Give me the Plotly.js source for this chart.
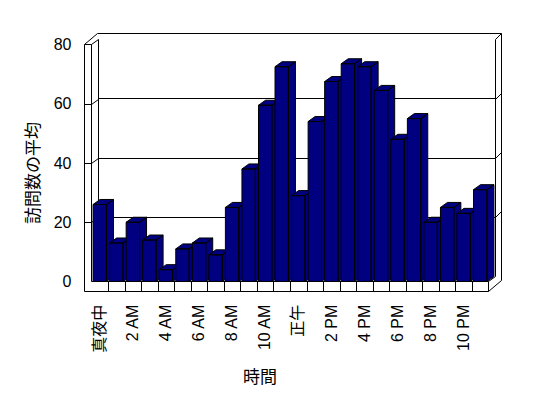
<!DOCTYPE html>
<html>
<head>
<meta charset="utf-8">
<script src="https://cdn.plot.ly/plotly-3.0.1.min.js"></script>
<style>html,body{margin:0;padding:0;background:#fff;}#chart{width:548px;height:398px;}</style>
</head>
<body>
<div id="chart"></div>
<script>
// ---- data ----
const hours = ['真夜中','1 AM','2 AM','3 AM','4 AM','5 AM','6 AM','7 AM','8 AM','9 AM','10 AM','11 AM',
               '正午','1 PM','2 PM','3 PM','4 PM','5 PM','6 PM','7 PM','8 PM','9 PM','10 PM','11 PM'];
const visits = [26, 13, 20, 14, 4, 11, 13, 9, 25, 38, 59.5, 72.5,
                29, 54, 67.5, 73.5, 72.5, 64.5, 48, 55, 20, 25, 23, 31];
const tickIdx = [0, 2, 4, 6, 8, 10, 12, 14, 16, 18, 20, 22];
const yTicks = [0, 20, 40, 60, 80];
const xTitle = '時間';
const yTitle = '訪問数の平均';

// ---- geometry (pixels) ----
const W = 548, H = 398;
const FX0 = 91.5;            // front plane, x = -0.5
const UX = 397 / 24;         // px per category
const FY0 = 281.5;           // front plane, value 0
const UY = 237 / 80;         // px per value unit
const FL = 84.5;             // left wall outer face
const FLB = 291.5;           // floor bottom
const DX = 7, DY = 5;        // depth offset of bars / back wall
const TX = 6, TY = 6;        // back wall thickness
const FXR = FX0 + 24 * UX;   // front right
const FYT = FY0 - 80 * UY;   // front top (value 80)
const px = x => x / W, py = y => 1 - y / H;
const yF = v => FY0 - v * UY;

const font = "'Liberation Sans', Arial, 'Noto Sans CJK JP', sans-serif";

// ---- bars as 3D polygons, in data units of the front axes ----
const hw = 0.405, ddx = DX / UX, ddy = DY / UY;
const traces = [{x: [], y: [], xaxis: 'x', yaxis: 'y', type: 'scatter', mode: 'none', showlegend: false, hoverinfo: 'skip'}];
visits.forEach((v, i) => {
  const L = i - hw, R = i + hw;
  const xs = [L, R, R, L, L, null,
              L, R, R + ddx, L + ddx, L, null,
              R, R + ddx, R + ddx, R, R];
  const ys = [0, 0, v, v, 0, null,
              v, v, v + ddy, v + ddy, v, null,
              0, ddy, v + ddy, v, 0];
  traces.push({
    type: 'scatter', x: xs, y: ys, xaxis: 'x2', yaxis: 'y2',
    mode: 'lines', fill: 'toself', fillcolor: '#000080',
    line: {color: '#000000', width: 1}, connectgaps: false,
    name: hours[i], showlegend: false, hoverinfo: 'skip'
  });
});

// ---- frame lines ----
const shapes = [];
const seg = (x0, y0, x1, y1) => shapes.push({type: 'line', xref: 'paper', yref: 'paper',
  x0: px(x0), y0: py(y0), x1: px(x1), y1: py(y1), line: {color: '#000', width: 1}, layer: 'below'});
// left wall
seg(FL, FYT, FL, FLB);
seg(FX0, FYT, FX0, FY0);
seg(FL, FYT, FX0, FYT);
seg(FL, FYT, FL + DX + TX, FYT - DY - TY);
seg(FX0, FYT, FX0 + DX, FYT - DY);
// back wall
seg(FX0 + DX, FYT - DY, FX0 + DX, FY0 - DY);
seg(FXR + DX, FYT - DY, FXR + DX, FY0 - DY);
seg(FL + DX + TX, FYT - DY - TY, FXR + DX + TX, FYT - DY - TY);
seg(FXR + DX, FYT - DY, FXR + DX + TX, FYT - DY - TY);
seg(FXR + DX + TX, FYT - DY - TY, FXR + DX + TX, FLB - DY - TY);
// floor
seg(FX0, FY0, FXR, FY0);
seg(FL, FLB, FXR, FLB);
seg(FXR, FY0, FXR, FLB);
seg(FXR, FY0, FXR + DX, FY0 - DY);
seg(FXR, FLB, FXR + DX + TX, FLB - DY - TY);
// floor category ticks
for (let k = 1; k < hours.length; k++) {
  const x = Math.round(FX0 + k * UX) + 0.5;
  seg(x, FY0, x, FLB);
}
// value ticks on the side wall and back wall edge
yTicks.forEach(v => {
  if (v === 0 || v === 80) return;
  const y = Math.round(yF(v)) + 0.5;
  seg(FL, y, FX0, y);
  seg(FX0, y, FX0 + DX, y - DY);
  seg(FXR + DX, y - DY, FXR + DX + TX, y - DY - TY);
});

const layout = {
  width: W, height: H,
  margin: {l: 0, r: 0, t: 0, b: 0},
  paper_bgcolor: '#fff', plot_bgcolor: 'rgba(0,0,0,0)',
  showlegend: false,
  font: {family: font, size: 16, color: '#000'},
  // back wall (gridlines)
  xaxis: {domain: [px(FX0 + DX), px(FXR + DX)], range: [0, 1], anchor: 'y',
          showgrid: false, zeroline: false, showline: false, showticklabels: false, ticks: ''},
  yaxis: {domain: [py(FY0 - DY), py(FYT - DY)], range: [0, 80], anchor: 'x',
          tickvals: yTicks, showgrid: true, gridcolor: '#000', gridwidth: 1,
          zeroline: false, showline: false, showticklabels: false, ticks: ''},
  // front plane (bars and labels)
  xaxis2: {domain: [px(FX0), px(FX0 + 24.8 * UX)], range: [-0.5, 24.3],
           anchor: 'free', position: py(FLB),
           tickvals: tickIdx, ticktext: tickIdx.map(i => hours[i]), tickangle: -90,
           tickfont: {family: font, size: 16, color: '#000'}, ticklabelstandoff: 9,
           showgrid: false, zeroline: false, showline: false, ticks: ''},
  yaxis2: {domain: [py(FY0 + UY), py(FY0 - 82 * UY)], range: [-1, 82],
           anchor: 'free', position: px(FL),
           tickvals: yTicks, ticktext: yTicks.map(String),
           tickfont: {family: font, size: 16, color: '#000'}, ticklabelstandoff: 13,
           showgrid: false, zeroline: false, showline: false, ticks: ''},
  shapes: shapes,
  annotations: [
    {text: xTitle, xref: 'paper', yref: 'paper', x: px(260), y: py(377), showarrow: false,
     xanchor: 'center', yanchor: 'middle', font: {family: font, size: 17, color: '#000'}},
    {text: yTitle, xref: 'paper', yref: 'paper', x: px(33), y: py(173), showarrow: false, textangle: -90,
     xanchor: 'center', yanchor: 'middle', font: {family: font, size: 17, color: '#000'}}
  ]
};

Plotly.newPlot('chart', traces, layout, {staticPlot: true, displayModeBar: false});
</script>
</body>
</html>
